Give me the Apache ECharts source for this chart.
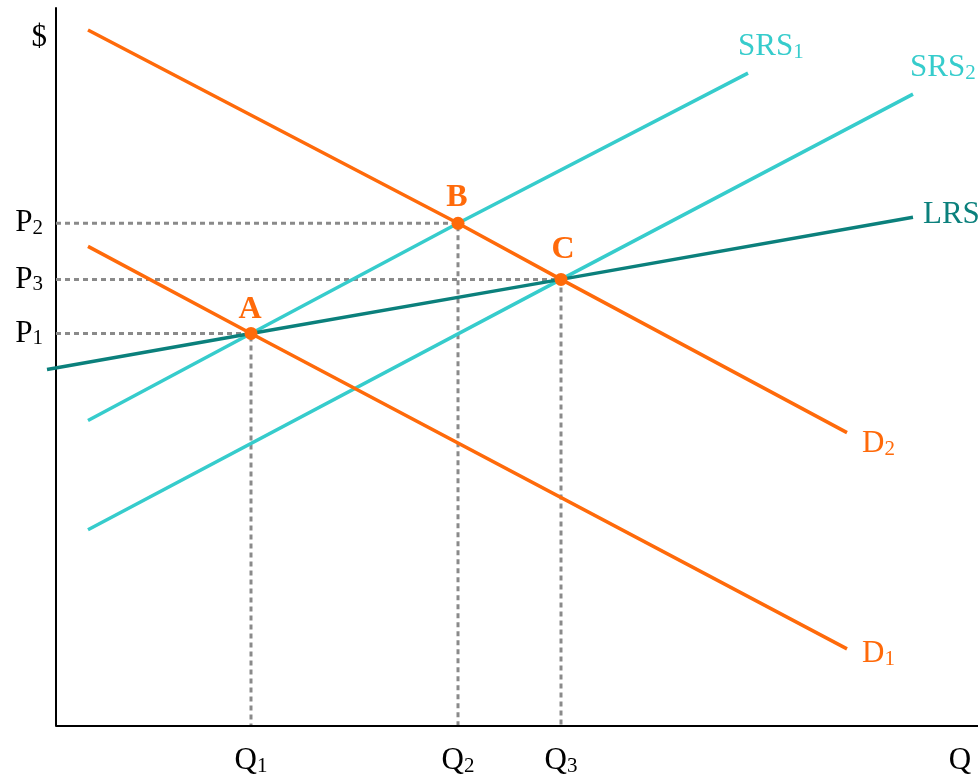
<!DOCTYPE html>
<html><head><meta charset="utf-8">
<script src="https://cdn.jsdelivr.net/npm/echarts@6/dist/echarts.min.js"></script>
<style>html,body{margin:0;padding:0;background:#fff}#c{width:978px;height:779px}</style>
</head><body><div id="c"></div><script>
const SERIF = "Liberation Serif";
const ORANGE = '#ff6a0a', CYAN = '#36cccc', TEAL = '#0b807c', GRAY = '#8a8a8a';

// Axis ranges (chart units)
const qMax = 922;
const pMax = 717;

// Equilibrium points (quantity, price)
const pointNames = ['A', 'B', 'C'];
const pointQ = [195, 402, 505];
const pointP = [392, 502, 446];

// Axis tick labels
const xTickValues = [195, 402, 505, 904];
const xTickLabels = ['Q_1', 'Q_2', 'Q_3', 'Q'];
const yTickValues = [392, 502, 446, 687];
const yTickLabels = ['P_1', 'P_2', 'P_3', '$'];

// Curves
const d1 = [[32, 479], [195, 392], [791, 77]];
const d2 = [[32, 695], [402, 502], [505, 446], [791, 293]];
const srs1 = [[32, 305], [195, 392], [402, 502], [692, 652]];
const srs2 = [[32, 196], [505, 446], [857, 631]];
const lrs = [[-9, 356], [195, 392], [505, 446], [857, 508]];

function sub(t) {
  const parts = t.split('_');
  return parts.length > 1 ? '{m|' + parts[0] + '}{s|' + parts[1] + '}' : '{m|' + parts[0] + '}';
}
function rich(color) {
  return {
    m: { fontFamily: SERIF, fontSize: 31, lineHeight: 32, color: color },
    s: { fontFamily: SERIF, fontSize: 21, lineHeight: 12, verticalAlign: 'bottom', color: color }
  };
}

const chart = echarts.init(document.getElementById('c'), null, { renderer: 'canvas' });

const series = [];
// horizontal axis baseline starting at Q = 0
series.push({
  type: 'line', silent: true, symbol: 'none', z: 6,
  data: [[0, 0], [qMax, 0]],
  lineStyle: { color: '#000', width: 2 }
});
for (let i = 0; i < pointQ.length; i++) {
  series.push({
    type: 'line', silent: true, symbol: 'none', z: 1,
    data: [[0, pointP[i]], [pointQ[i], pointP[i]], [pointQ[i], 0]],
    lineStyle: { color: GRAY, width: 3, type: [5, 4] }
  });
}
function curve(data, color, width, name, offset) {
  return [{
    type: 'line', name: name, data: data, symbol: 'none', clip: false, z: 3,
    lineStyle: { color: color, width: width }
  }, {
    type: 'line', name: name + '_label', data: data, symbol: 'none', z: 2,
    lineStyle: { width: 0, opacity: 0 },
    endLabel: { show: true, formatter: () => sub(name), offset: offset, rich: rich(color), distance: 8 }
  }];
}
series.push(...curve(srs1, CYAN, 3.5, 'SRS_1', [-18, -26]));
series.push(...curve(srs2, CYAN, 3.5, 'SRS_2', [-11, -26]));
series.push(...curve(lrs, TEAL, 3.5, 'LRS', [2, -2]));
series.push(...curve(d1, ORANGE, 3.5, 'D_1', [7, 5]));
series.push(...curve(d2, ORANGE, 3.5, 'D_2', [7, 11]));

const labelOffsets = [[-1, 2], [-1, 0], [2, -4]];
series.push({
  type: 'scatter', z: 5, symbolSize: 13,
  itemStyle: { color: ORANGE, opacity: 1 },
  data: pointQ.map((q, i) => ({
    value: [q, pointP[i]], name: pointNames[i],
    label: { offset: labelOffsets[i] }
  })),
  label: {
    show: true, position: 'top', distance: 3,
    formatter: p => p.name,
    fontFamily: SERIF, fontSize: 32, fontWeight: 'bold', color: ORANGE
  }
});

chart.setOption({
  animation: false,
  backgroundColor: '#fff',
  grid: { left: 47, right: 0, top: 8, bottom: 53, containLabel: false, outerBoundsMode: 'none' },
  xAxis: {
    type: 'value', min: -9, max: qMax,
    splitLine: { show: false },
    axisLine: { show: false },
    axisTick: { show: false },
    axisLabel: {
      customValues: xTickValues, margin: 19, hideOverlap: false,
      formatter: v => sub(xTickLabels[xTickValues.indexOf(v)]),
      rich: rich('#000')
    }
  },
  yAxis: {
    type: 'value', min: 0, max: pMax,
    splitLine: { show: false },
    axisLine: { show: true, onZero: true, lineStyle: { color: '#000', width: 2 } },
    axisTick: { show: false },
    axisLabel: {
      customValues: yTickValues, margin: 0, hideOverlap: false,
      formatter: v => {
        const t = yTickLabels[yTickValues.indexOf(v)];
        return t === '$' ? '{m|$}' : sub(t) + '{g| }';
      },
      rich: Object.assign(rich('#000'), { g: { width: 4, fontSize: 4 } })
    }
  },
  series: series
});
</script></body></html>
